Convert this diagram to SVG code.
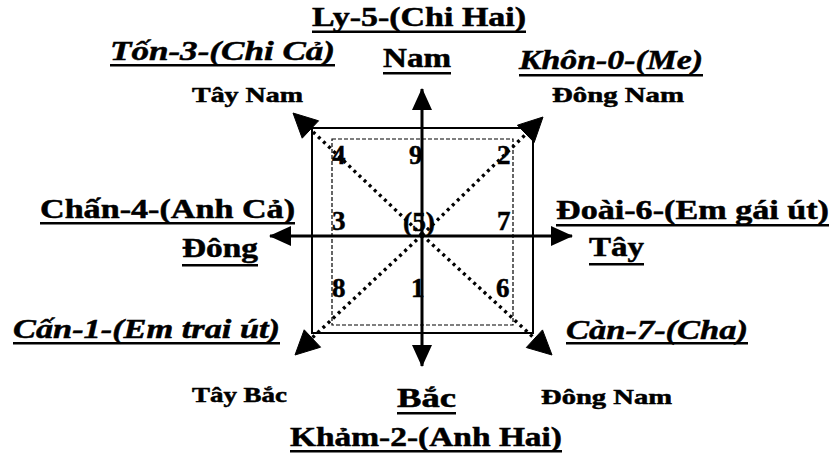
<svg xmlns="http://www.w3.org/2000/svg" width="834" height="458" viewBox="0 0 834 458">
<style>
.t{font-family:"Liberation Serif","Times New Roman",serif;font-weight:bold;fill:#000;stroke:#000;stroke-width:0.5}
.i{font-style:italic}
.big{font-size:27px}
.sm{font-size:21px}
.num{font-size:27px}
.ul{fill:#000}
.axis{stroke:#000;stroke-width:3;fill:none}
.diag{stroke:#000;stroke-width:3.4;stroke-dasharray:3 4;fill:none}
.outer{stroke:#000;stroke-width:2;fill:none}
.inner{stroke:#000;stroke-width:1.2;stroke-dasharray:4 2;fill:none}
.head{fill:#000;stroke:#000;stroke-width:1;stroke-linejoin:miter}
</style>
<defs>
<marker id="ah" viewBox="0 0 22 20" refX="21" refY="10" markerWidth="22" markerHeight="20" markerUnits="userSpaceOnUse" orient="auto-start-reverse">
<path d="M0,0 L22,10 L0,20 Z" fill="#000" stroke="none"/>
</marker>
</defs>
<rect width="834" height="458" fill="#fff"/>

<g id="connectors">
<rect class="outer" x="312" y="128" width="221" height="205"/>
<rect class="inner" x="332" y="139" width="181" height="186"/>
<line class="axis" x1="422" y1="366" x2="422" y2="89" marker-start="url(#ah)" marker-end="url(#ah)"/>
<line class="axis" x1="270" y1="236" x2="572" y2="236" marker-start="url(#ah)" marker-end="url(#ah)"/>
<line class="diag" x1="422" y1="235" x2="310" y2="129"/>
<line class="diag" x1="422" y1="235" x2="534" y2="338"/>
<line class="diag" x1="422" y1="235" x2="526" y2="134"/>
<line class="diag" x1="422" y1="235" x2="312" y2="338"/>
<polygon class="head" points="293,113 318.6,120.8 302.2,138.2"/>
<polygon class="head" points="552,355 526.3,347.5 542.5,329.9"/>
<polygon class="head" points="543,117 534.2,142.4 517.4,125.2"/>
<polygon class="head" points="295,355 304.2,329.8 320.6,347.2"/>
</g>

<g id="numbers">
<text class="t num" x="332" y="164">4</text>
<text class="t num" x="409" y="164">9</text>
<text class="t num" x="497" y="164">2</text>
<text class="t num" x="332" y="230">3</text>
<text class="t num" x="403" y="231" textLength="32" lengthAdjust="spacingAndGlyphs">(5)</text>
<text class="t num" x="497" y="230">7</text>
<text class="t num" x="332" y="297">8</text>
<text class="t num" x="411" y="297">1</text>
<text class="t num" x="496" y="297">6</text>
</g>

<g id="ly">
<text class="t big" x="312" y="26" textLength="214" lengthAdjust="spacingAndGlyphs">Ly-5-(Chi Hai)</text>
<rect class="ul" x="312" y="30.5" width="214" height="2.5"/>
</g>
<g id="ton">
<text class="t i big" x="110" y="60" textLength="225" lengthAdjust="spacingAndGlyphs">Tốn-3-(Chi Cả)</text>
<rect class="ul" x="110" y="64" width="225" height="2.5"/>
</g>
<g id="nam">
<text class="t big" x="383" y="67" textLength="68" lengthAdjust="spacingAndGlyphs">Nam</text>
<rect class="ul" x="383" y="72" width="68" height="2.5"/>
</g>
<g id="khon">
<text class="t i big" x="519" y="69" textLength="184" lengthAdjust="spacingAndGlyphs">Khôn-0-(Me)</text>
<rect class="ul" x="519" y="74" width="184" height="2.5"/>
</g>
<g id="taynam">
<text class="t sm" x="192" y="102" textLength="111" lengthAdjust="spacingAndGlyphs">Tây Nam</text>
</g>
<g id="dongnam-top">
<text class="t sm" x="552" y="102" textLength="132" lengthAdjust="spacingAndGlyphs">Đông Nam</text>
</g>
<g id="chan">
<text class="t big" x="40" y="218" textLength="255" lengthAdjust="spacingAndGlyphs">Chấn-4-(Anh Cả)</text>
<rect class="ul" x="40" y="222" width="255" height="2.5"/>
</g>
<g id="dong">
<text class="t big" x="182" y="257" textLength="76" lengthAdjust="spacingAndGlyphs">Đông</text>
<rect class="ul" x="182" y="264" width="76" height="2.5"/>
</g>
<g id="doai">
<text class="t big" x="556" y="219" textLength="273" lengthAdjust="spacingAndGlyphs">Đoài-6-(Em gái út)</text>
<rect class="ul" x="556" y="224" width="273" height="2.5"/>
</g>
<g id="tay">
<text class="t big" x="589" y="256" textLength="55" lengthAdjust="spacingAndGlyphs">Tây</text>
<rect class="ul" x="589" y="263" width="55" height="2.5"/>
</g>
<g id="can1">
<text class="t i big" x="13" y="338" textLength="267" lengthAdjust="spacingAndGlyphs">Cấn-1-(Em trai út)</text>
<rect class="ul" x="13" y="342" width="267" height="2.5"/>
</g>
<g id="can7">
<text class="t i big" x="566" y="339" textLength="182" lengthAdjust="spacingAndGlyphs">Càn-7-(Cha)</text>
<rect class="ul" x="566" y="342" width="182" height="2.5"/>
</g>
<g id="taybac">
<text class="t sm" x="192" y="402" textLength="95" lengthAdjust="spacingAndGlyphs">Tây Bắc</text>
</g>
<g id="bac">
<text class="t big" x="397" y="407" textLength="59" lengthAdjust="spacingAndGlyphs">Bắc</text>
<rect class="ul" x="397" y="412" width="59" height="2.5"/>
</g>
<g id="dongnam-bottom">
<text class="t sm" x="541" y="404" textLength="131" lengthAdjust="spacingAndGlyphs">Đông Nam</text>
</g>
<g id="kham">
<text class="t big" x="290" y="446" textLength="272" lengthAdjust="spacingAndGlyphs">Khảm-2-(Anh Hai)</text>
<rect class="ul" x="290" y="450" width="272" height="2.5"/>
</g>
</svg>
